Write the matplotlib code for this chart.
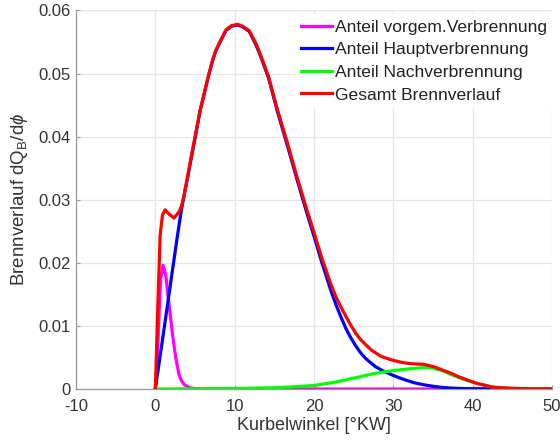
import matplotlib
matplotlib.use("Agg")
import matplotlib.pyplot as plt

# Crank angle [°KW] and heat release rate for each combustion phase
x_pre = [0, 0.12, 0.25, 0.48, 0.67, 0.98, 1.32, 1.74, 2.17, 2.58, 3.0, 3.3, 3.63, 4.3,
         5.0, 6.0, 50]
y_pre = [0, 0.0018, 0.0050, 0.0122, 0.0175, 0.0196, 0.0180, 0.0133, 0.0086, 0.0049,
         0.0022, 0.0013, 0.0007, 0.0002, 0.00005, 0, 0]

x_main = [0, 1.11, 1.95, 2.8, 3.3, 3.76, 4.14, 4.5, 4.9, 5.65, 6.66, 7.21, 7.6, 8.05,
          8.89, 9.6, 10.35, 11.0, 11.83, 12.67, 13.1, 13.52, 14.27, 15.41, 16.67, 17.84,
          19.1, 20.03, 21.0, 21.5, 22.1, 22.76, 23.4, 24.02, 24.6, 25.28, 25.9, 26.54,
          27.2, 27.8, 28.65, 29.9, 30.7, 31.6, 32.6, 33.7, 35.16, 36.2, 37.26, 38.5, 40,
          45, 50]
y_main = [0, 0.0096, 0.0170, 0.0244, 0.0285, 0.0316, 0.0339, 0.0364, 0.0390, 0.0441,
          0.0494, 0.0520, 0.0535, 0.0547, 0.0568, 0.0575, 0.0577, 0.0574, 0.0567, 0.0546,
          0.0533, 0.0519, 0.0493, 0.0439, 0.0385, 0.0333, 0.0279, 0.0241, 0.0200, 0.0181,
          0.0157, 0.0134, 0.0114, 0.0096, 0.0082, 0.0068, 0.0057, 0.0048, 0.0041, 0.0035,
          0.0029, 0.0022, 0.0018, 0.0014, 0.0010, 0.0007, 0.0004, 0.00025, 0.00015,
          0.00008, 0.00003, 0, 0]

x_post = [0, 5, 10, 15, 18.35, 20.24, 22.76, 25.28, 27.8, 29.9, 32.0, 33.9, 35.0, 36.2,
          37.26, 38.3, 39.4, 40.5, 41.5, 42.5, 43.6, 45, 47, 50]
y_post = [0, 0.00002, 0.00008, 0.0002, 0.0004, 0.0006, 0.0011, 0.0018, 0.0025, 0.0029,
          0.0032, 0.0034, 0.0033, 0.0029, 0.0023, 0.0018, 0.0013, 0.0009, 0.0006, 0.0003,
          0.0002, 0.0001, 0.00003, 0]

x_total = [0, 0.15, 0.36, 0.61, 0.9, 1.24, 1.74, 2.37, 3.0, 3.3, 3.6, 3.97, 4.14, 4.5,
           4.9, 5.65, 6.66, 7.21, 7.6, 8.05, 8.89, 9.6, 10.35, 11.0, 11.83, 12.67, 13.1,
           13.52, 14.27, 15.41, 16.67, 17.84, 19.1, 20.03, 21.0, 21.5, 22.1, 22.76, 23.4,
           24.02, 24.6, 25.28, 25.9, 26.54, 27.2, 27.8, 28.4, 29.07, 29.8, 30.75, 31.6,
           32.43, 33.9, 35.16, 36.2, 37.26, 38.3, 39.4, 40.5, 41.5, 42.5, 43.6, 45, 47, 50]
y_total = [0, 0.0060, 0.0149, 0.0244, 0.0276, 0.0284, 0.0277, 0.0271, 0.0281, 0.0290,
           0.0305, 0.0330, 0.0342, 0.0367, 0.0393, 0.0442, 0.0495, 0.0521, 0.0536, 0.0548,
           0.0569, 0.0576, 0.0578, 0.0575, 0.0568, 0.0548, 0.0535, 0.0521, 0.0495, 0.0442,
           0.0389, 0.0337, 0.0284, 0.0247, 0.0207, 0.0189, 0.0167, 0.0146, 0.0130, 0.0115,
           0.0102, 0.0088, 0.0078, 0.0070, 0.0062, 0.0057, 0.0052, 0.0049, 0.0046, 0.0043,
           0.0041, 0.0040, 0.0039, 0.0035, 0.0030, 0.0025, 0.0019, 0.0014, 0.0009, 0.0006,
           0.0003, 0.0002, 0.0001, 0.00003, 0]

labels = ["Anteil vorgem.Verbrennung", "Anteil Hauptverbrennung",
          "Anteil Nachverbrennung", "Gesamt Brennverlauf"]
x_ticks = [-10, 0, 10, 20, 30, 40, 50]
y_ticks = [0, 0.01, 0.02, 0.03, 0.04, 0.05, 0.06]
y_ticklabels = ["0", "0.01", "0.02", "0.03", "0.04", "0.05", "0.06"]

plt.rcParams["font.family"] = ["Liberation Sans", "DejaVu Sans"]
plt.rcParams["axes.unicode_minus"] = False
plt.rcParams["mathtext.fontset"] = "custom"
plt.rcParams["mathtext.rm"] = "Liberation Sans"
plt.rcParams["mathtext.it"] = "Liberation Sans:italic"

fig = plt.figure(figsize=(5.6, 4.43), dpi=100)
ax = fig.add_axes([0.1357, 0.1219, 0.85, 0.8544])

lw = 2.3
ax.plot(x_pre, y_pre, color="#ff00ff", lw=lw, label=labels[0], zorder=3)
ax.plot(x_main, y_main, color="#0000ff", lw=lw, label=labels[1], zorder=4)
ax.plot(x_post, y_post, color="#00ff00", lw=lw, label=labels[2], zorder=5)
ax.plot(x_total, y_total, color="#ff0000", lw=lw, label=labels[3], zorder=6)

ax.set_xlim(-10, 50)
ax.set_ylim(0, 0.06)
ax.set_xticks(x_ticks)
ax.set_yticks(y_ticks)
ax.set_yticklabels(y_ticklabels)

ax.grid(True, color="#e6e6e6", lw=0.9)
ax.set_axisbelow(True)
for side in ("top", "right"):
    ax.spines[side].set_visible(False)
for side in ("left", "bottom"):
    ax.spines[side].set_color("#9a9a9a")
    ax.spines[side].set_linewidth(0.9)
ax.tick_params(direction="in", length=3, color="#9a9a9a", labelcolor="#333333",
               labelsize=12)
ax.tick_params(axis="x", pad=7.5)
ax.tick_params(axis="y", pad=4)

ax.set_xlabel("Kurbelwinkel [°KW]", fontsize=13, color="#333333", labelpad=2)
ax.set_ylabel(r"Brennverlauf dQ$_\mathregular{B}$/d$\phi$", fontsize=13.5,
              color="#333333", labelpad=6)

leg = ax.legend(loc="upper right", bbox_to_anchor=(1.0, 0.99), fontsize=12.6,
                frameon=True, framealpha=1, facecolor="white", edgecolor="none",
                handlelength=1.75, handletextpad=0.15, labelspacing=0.42,
                borderaxespad=0.0, borderpad=0.3)
for t in leg.get_texts():
    t.set_color("#222222")

fig.savefig("out.png", dpi=100)
